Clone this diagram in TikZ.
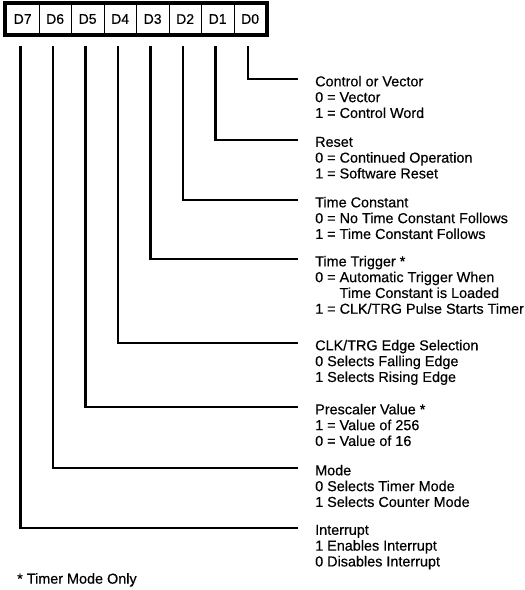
\documentclass[tikz,border=0pt]{standalone}
\usepackage{fontspec}
\setmainfont{Liberation Sans}[FakeBold=0.4]
\begin{document}
\begin{tikzpicture}[x=1pt,y=-1pt,
  cell/.style={draw=black,line width=0.8pt,minimum width=32.5pt,minimum height=32pt,inner sep=0pt,anchor=west,font=\fontsize{14}{16}\selectfont},
  lead/.style={line width=2.6pt},
  desc/.style={anchor=north west,inner sep=0pt,align=left,font=\fontsize{14.4}{15.8}\selectfont}]
\useasboundingbox (0,0) rectangle (525,590);
\foreach \i/\t in {0/D7,1/D6,2/D5,3/D4,4/D3,5/D2,6/D1,7/D0}{
  \node[cell] (c\t) at ({6+\i*32.5},19) {\t};
}
\draw[line width=4pt] (5,3) rectangle (267,35);
\foreach \t/\y in {D0/79,D1/140,D2/200,D3/259,D4/343,D5/407,D6/468,D7/528}{
  \coordinate (e\t) at (298,\y);
  \draw[lead] (c\t.south) ++(-2,11) |- (e\t);
}
\node[desc] (t0) at (315,75.7) {Control or Vector\\0 = Vector\\1 = Control Word};
\node[desc] (t1) at (315,136.7) {Reset\\0 = Continued Operation\\1 = Software Reset};
\node[desc] (t2) at (315,196.7) {Time Constant\\0 = No Time Constant Follows\\1 = Time Constant Follows};
\node[desc] (t3) at (315,255.7) {Time Trigger *\\0 = Automatic Trigger When\\\phantom{0 = }Time Constant is Loaded\\1 = CLK/TRG Pulse Starts Timer};
\node[desc] (t4) at (315,339.7) {CLK/TRG Edge Selection\\0 Selects Falling Edge\\1 Selects Rising Edge};
\node[desc] (t5) at (315,403.7) {Prescaler Value *\\1 = Value of 256\\0 = Value of 16};
\node[desc] (t6) at (315,464.7) {Mode\\0 Selects Timer Mode\\1 Selects Counter Mode};
\node[desc] (t7) at (315,524.7) {Interrupt\\1 Enables Interrupt\\0 Disables Interrupt};
\node[desc] (fn) at (17,573) {* Timer Mode Only};
\end{tikzpicture}
\end{document}
